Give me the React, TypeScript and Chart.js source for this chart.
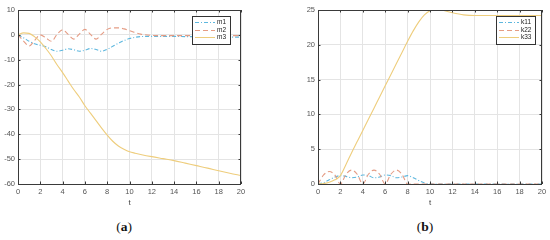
import React, { useEffect, useRef } from "react";
import { Chart, registerables } from "chart.js";

Chart.register(...registerables);

// ---------- data ----------
const tValues = [0, 0.5, 1, 1.5, 2, 2.5, 3, 3.5, 4, 4.5, 5, 5.5, 6, 6.5, 7, 7.5, 8, 8.5, 9, 9.5, 10, 10.5, 11, 12, 13, 14, 15, 16, 17, 18, 19, 20];

const m1 = [0, -1.2, -2.6, -3.6, -4.2, -4.8, -5.9, -6.6, -6.2, -5.6, -6.0, -6.6, -6.2, -5.5, -5.9, -6.6, -5.8, -4.6, -3.4, -2.3, -1.5, -1.0, -0.7, -0.6, -0.6, -0.6, -0.7, -0.7, -0.8, -0.8, -0.9, -0.9];
const m2 = [0, -2.5, -4.5, -2.2, 0, -1.2, -2.6, 0.2, 2.0, 0.2, -1.7, 0.3, 2.2, 0.2, -1.7, 0.3, 2.2, 2.8, 2.8, 2.4, 1.7, 0.9, 0.3, -0.2, -0.3, -0.3, -0.3, -0.3, -0.3, -0.3, -0.3, -0.3];
const m3 = [0, 0.8, 0.6, -0.8, -2.8, -5.5, -8.5, -12, -15.2, -18.6, -22, -25, -28.5, -31.5, -34.5, -37.5, -40.3, -42.8, -44.7, -46, -47, -47.6, -48.1, -49, -49.8, -50.6, -51.6, -52.6, -53.6, -54.7, -55.7, -56.6];

const k11 = [0, 0.2, 0.6, 1.0, 1.2, 1.1, 0.9, 1.0, 1.3, 1.2, 0.9, 1.0, 1.3, 1.2, 0.9, 1.0, 1.2, 0.9, 0.5, 0.15, 0, 0, 0, 0, 0, 0, 0, 0, 0, 0, 0, 0];
const k22 = [0, 1.3, 1.8, 1.3, 0, 1.4, 2.0, 1.4, 0, 1.4, 2.0, 1.4, 0, 1.4, 2.0, 1.4, 0, 0, 0, 0, 0, 0, 0, 0, 0, 0, 0, 0, 0, 0, 0, 0];
const k33 = [0, 0.05, 0.25, 0.6, 1.2, 2.8, 4.5, 6.1, 7.7, 9.3, 10.9, 12.5, 14.1, 15.7, 17.3, 18.9, 20.5, 22.0, 23.3, 24.3, 24.9, 25.1, 25.0, 24.6, 24.3, 24.2, 24.2, 24.2, 24.2, 24.2, 24.2, 24.2];

const xTickStep = 2;
const leftYRange = [-60, 10];
const leftYStep = 10;
const rightYRange = [0, 25];
const rightYStep = 5;

const leftLabels = ["m1", "m2", "m3"];
const rightLabels = ["k11", "k22", "k33"];

// ---------- styles ----------
const COLORS = ["#5db7de", "#e59c84", "#eecd7c"];
const DASHES = [[4, 2, 1, 2], [5, 3], []];
const TICK_FONT = { family: "'Liberation Sans', Arial, sans-serif", size: 7.5 };
const TICK_COLOR = "#555";
const GRID_COLOR = "#e4e4e4";

const framePlugin = {
  id: "frame",
  afterDraw(chart: any) {
    const { ctx, chartArea: a, scales } = chart;
    ctx.save();
    ctx.strokeStyle = "#3a3a3a";
    ctx.lineWidth = 1;
    ctx.strokeRect(Math.round(a.left) + 0.5, Math.round(a.top) + 0.5, Math.round(a.right - a.left) - 1, Math.round(a.bottom - a.top));
    ctx.beginPath();
    const tl = 2.5;
    scales.x.ticks.forEach((t: any) => {
      const x = Math.round(scales.x.getPixelForValue(t.value)) + 0.5;
      ctx.moveTo(x, a.bottom);
      ctx.lineTo(x, a.bottom - tl);
      ctx.moveTo(x, a.top);
      ctx.lineTo(x, a.top + tl);
    });
    scales.y.ticks.forEach((t: any) => {
      const y = Math.round(scales.y.getPixelForValue(t.value)) + 0.5;
      ctx.moveTo(a.left, y);
      ctx.lineTo(a.left + tl, y);
      ctx.moveTo(a.right, y);
      ctx.lineTo(a.right - tl, y);
    });
    ctx.stroke();
    ctx.restore();
  },
};

const boxLegendPlugin = {
  id: "boxLegend",
  afterDraw(chart: any, _args: any, opts: any) {
    const { ctx, chartArea: a } = chart;
    const { rightInset, labels } = opts;
    ctx.save();
    ctx.font = "6.5px 'Liberation Sans', Arial, sans-serif";
    const textW = Math.max(...labels.map((l: string) => ctx.measureText(l).width));
    const lineStart = 3;
    const lineLen = 20;
    const gap = 2;
    const width = Math.ceil(lineStart + lineLen + gap + textW + 3);
    const right = Math.round(a.right - rightInset);
    const left = right - width;
    const top = Math.round(a.top + 6);
    const rowH = 7.6;
    const height = 28;
    ctx.fillStyle = "#fff";
    ctx.fillRect(left, top, width, height);
    ctx.strokeStyle = "#333";
    ctx.lineWidth = 1;
    ctx.strokeRect(left + 0.5, top + 0.5, width, height);
    ctx.textBaseline = "middle";
    labels.forEach((lab: string, i: number) => {
      const y = Math.round(top + 6 + i * rowH) + 0.5;
      ctx.beginPath();
      ctx.setLineDash(DASHES[i]);
      ctx.strokeStyle = COLORS[i];
      ctx.lineWidth = 1;
      ctx.moveTo(left + lineStart, y);
      ctx.lineTo(left + lineStart + lineLen, y);
      ctx.stroke();
      ctx.setLineDash([]);
      ctx.fillStyle = "#222";
      ctx.fillText(lab, left + lineStart + lineLen + gap, y);
    });
    ctx.restore();
  },
};

function makeConfig(series: number[][], labels: string[], yRange: number[], yStep: number, rightPad: number, legendInset: number): any {
  return {
    type: "line",
    data: {
      datasets: series.map((s, i) => ({
        label: labels[i],
        data: s.map((v, j) => ({ x: tValues[j], y: v })),
        borderColor: COLORS[i],
        borderWidth: 1.1,
        borderDash: DASHES[i],
        pointRadius: 0,
        fill: false,
        cubicInterpolationMode: "monotone",
        order: 3 - i,
      })),
    },
    options: {
      animation: false,
      responsive: false,
      maintainAspectRatio: false,
      layout: { padding: { top: 10, right: rightPad, left: 0, bottom: 0 } },
      plugins: {
        legend: { display: false },
        tooltip: { enabled: false },
        boxLegend: { rightInset: legendInset, labels },
      },
      scales: {
        x: {
          type: "linear",
          min: 0,
          max: 20,
          ticks: { stepSize: xTickStep, font: TICK_FONT, color: TICK_COLOR, padding: 3, maxRotation: 0, autoSkip: false },
          grid: { color: GRID_COLOR, drawTicks: false, lineWidth: 1 },
          border: { display: false },
          title: { display: true, text: "t", font: { ...TICK_FONT, size: 8 }, color: "#444", padding: { top: 0, bottom: 7 } },
          afterFit: (s: any) => { s.height = 31; },
        },
        y: {
          type: "linear",
          min: yRange[0],
          max: yRange[1],
          ticks: { stepSize: yStep, font: TICK_FONT, color: TICK_COLOR, padding: 3 },
          grid: { color: GRID_COLOR, drawTicks: false, lineWidth: 1 },
          border: { display: false },
          afterFit: (s: any) => { s.width = 18; },
        },
      },
    },
    plugins: [framePlugin, boxLegendPlugin],
  };
}

export default function App() {
  const leftRef = useRef<HTMLCanvasElement>(null);
  const rightRef = useRef<HTMLCanvasElement>(null);

  useEffect(() => {
    const c1 = new Chart(leftRef.current as HTMLCanvasElement, makeConfig([m1, m2, m3], leftLabels, leftYRange, leftYStep, 9, 11));
    const c2 = new Chart(rightRef.current as HTMLCanvasElement, makeConfig([k11, k22, k33], rightLabels, rightYRange, rightYStep, 8, 7));
    return () => {
      c1.destroy();
      c2.destroy();
    };
  }, []);

  const capStyle: React.CSSProperties = {
    position: "absolute",
    top: 219,
    width: 40,
    textAlign: "center",
    fontFamily: "'Liberation Serif', 'Times New Roman', serif",
    fontSize: 13.5,
    lineHeight: "16px",
    color: "#111",
  };

  return (
    <div style={{ position: "fixed", left: 0, top: 0, width: 550, height: 240, background: "#fff", overflow: "hidden" }}>
      <canvas ref={leftRef} width={250} height={215} style={{ position: "absolute", left: 0, top: 0, width: 250, height: 215 }} />
      <canvas ref={rightRef} width={250} height={215} style={{ position: "absolute", left: 300, top: 0, width: 250, height: 215 }} />
      <div style={{ ...capStyle, left: 104 }}>(<b>a</b>)</div>
      <div style={{ ...capStyle, left: 405 }}>(<b>b</b>)</div>
    </div>
  );
}
